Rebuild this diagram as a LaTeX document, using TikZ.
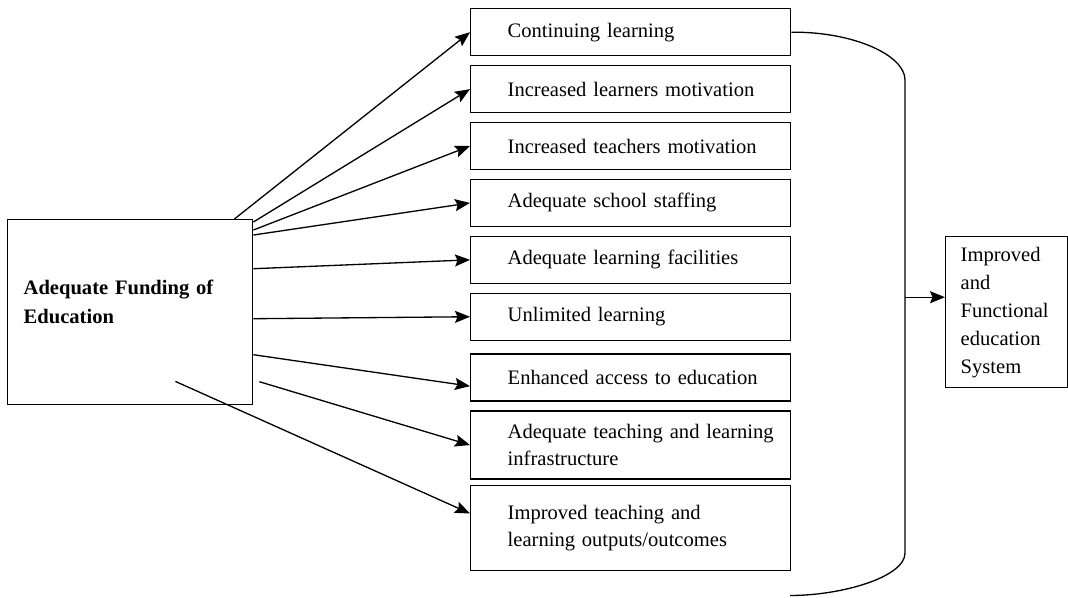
\documentclass[tikz,border=0pt]{standalone}
\usepackage{fontspec}
\setmainfont{Liberation Serif}
\usetikzlibrary{arrows.meta,positioning}

\begin{document}
\begin{tikzpicture}[
    node distance=0.17cm,
    font=\fontsize{11.7}{15.6}\selectfont,
    box/.style={rectangle, draw, line width=0.8pt, text width=6cm, inner xsep=0.2cm, minimum height=0.94cm, align=left, execute at begin node={\leftskip=0.54cm\relax}},
    source/.style={rectangle, draw, line width=0.8pt, minimum width=4.9cm, minimum height=3.7cm, text width=4.26cm, inner xsep=0.32cm, text depth=1cm, align=left, font=\fontsize{11.7}{16.5}\selectfont\bfseries},
    goal/.style={rectangle, draw, line width=0.8pt, minimum width=2.44cm, minimum height=3.02cm, text width=1.84cm, inner xsep=0.3cm, align=left, font=\fontsize{11.7}{15.9}\selectfont},
    arrow/.style={-{Stealth[length=3mm, width=2.4mm, inset=0.5mm]}, line width=0.75pt}
]
\useasboundingbox (0,0) rectangle (21.36,-11.94);

\node[source, anchor=north west] (fund) at (0.14,-4.38) {Adequate Funding of\\Education};

% column of outcomes
\node[box, anchor=north west] (cont) at (9.4,-0.16) {Continuing learning};
\node[box, below=of cont] (learners) {Increased learners motivation};
\node[box, below=of learners] (teachers) {Increased teachers motivation};
\node[box, below=of teachers] (staff) {Adequate school staffing};
\node[box, below=of staff] (facil) {Adequate learning facilities};
\node[box, below=of facil] (unlim) {Unlimited learning};
\node[box, below=0.25cm of unlim] (access) {Enhanced access to education};
\node[box, below=of access, minimum height=1.36cm] (infra) {Adequate teaching and learning\\infrastructure};
\node[box, below=0.1cm of infra, minimum height=1.7cm] (outcome) {Improved teaching and\\learning outputs/outcomes};

\node[goal, anchor=north west] (system) at (18.9,-4.72) {Improved\\and\\Functional\\education\\System};

% fan of arrows
\draw[arrow] ([xshift=-0.38cm]fund.north east) -- (cont.west);
\draw[arrow] ([yshift=-0.06cm]fund.north east) -- (learners.west);
\draw[arrow] ([yshift=-0.22cm]fund.north east) -- (teachers.west);
\draw[arrow] ([yshift=-0.32cm]fund.north east) -- (staff.west);
\draw[arrow] ([yshift=0.87cm]fund.east) -- (facil.west);
\draw[arrow] ([yshift=-0.13cm]fund.east) -- (unlim.west);
\draw[arrow] ([yshift=-0.85cm]fund.east) -- ([yshift=-0.17cm]access.west);
\draw[arrow] ([xshift=0.12cm,yshift=-1.39cm]fund.east) -- (infra.west);
\draw[arrow] ([xshift=-1.56cm,yshift=0.48cm]fund.south east) -- ([yshift=0.29cm]outcome.west);

% bracket collecting the column
\coordinate (top) at (18.1,-1.6);
\coordinate (foot) at (18.1,-11.06);
\coordinate (tail) at (15.8,-11.91);
\draw[line width=0.75pt] (cont.east) .. controls (17.06,-0.63) and (18.1,-1.1) .. (top)
    -- (foot) .. controls (18.1,-11.54) and (16.84,-11.91) .. (tail);

\coordinate (join) at ([yshift=0.3cm]system.west);
\draw[arrow] (join -| top) -- (join);

\end{tikzpicture}
\end{document}
